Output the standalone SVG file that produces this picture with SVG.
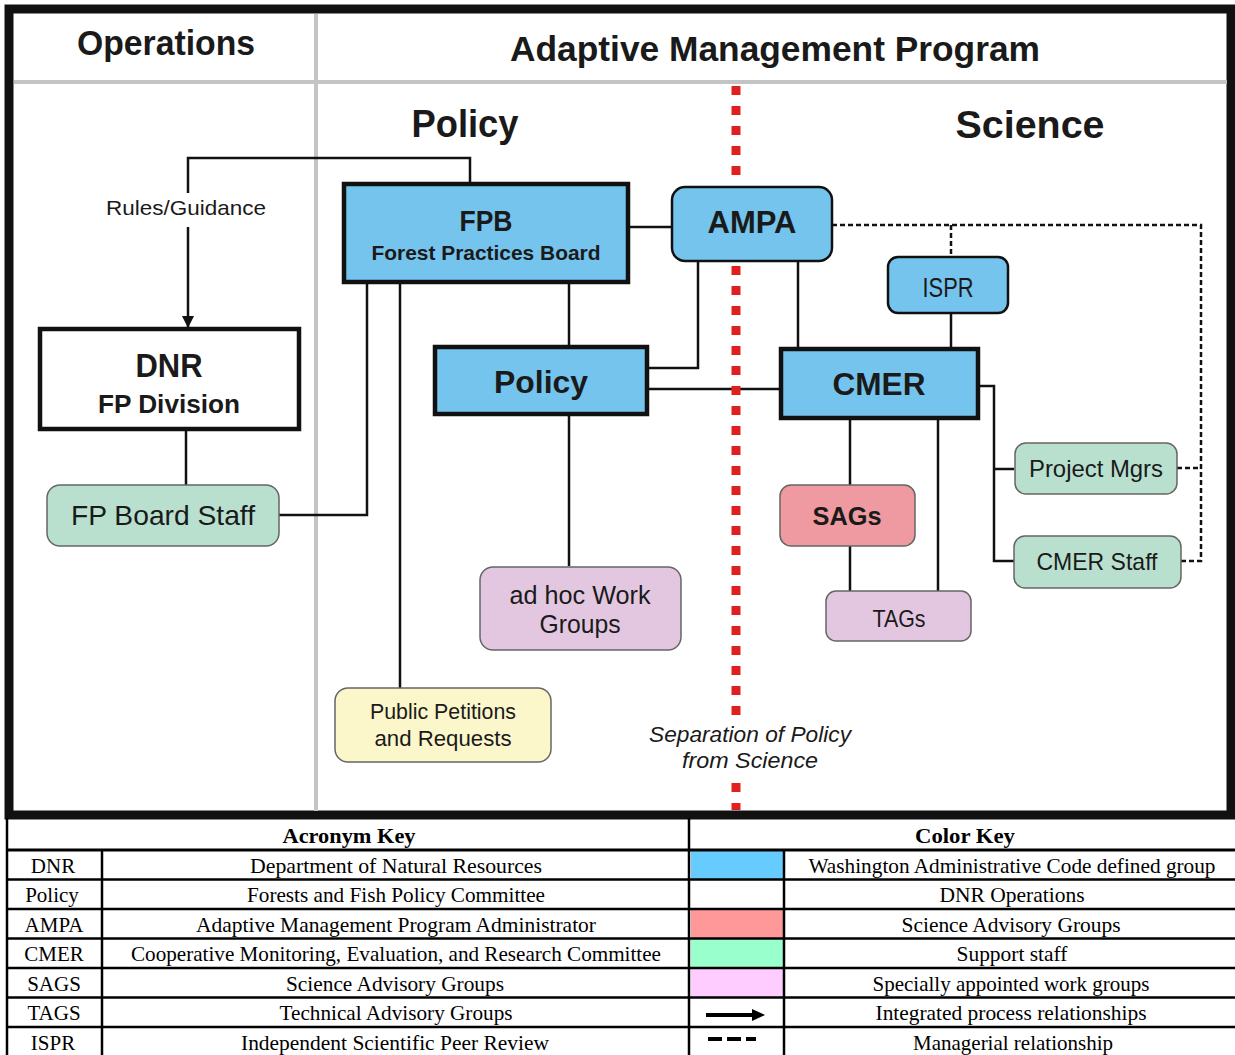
<svg xmlns="http://www.w3.org/2000/svg" width="1235" height="1055" viewBox="0 0 1235 1055">
<defs>
<style>
.t{font-family:"Liberation Sans",Arial,sans-serif;fill:#1a1a1a;text-anchor:middle}
.b{font-weight:bold}
.c{fill:none;stroke:#111;stroke-width:2.5}
.d{fill:none;stroke:#111;stroke-width:2.5;stroke-dasharray:5 3}
.blue{fill:#74c4ee}
.sq{stroke:#111;stroke-width:4.5}
.rd{stroke:#111;stroke-width:2.5}
.pst{stroke:#666;stroke-width:1.5}
.tt{font-family:"Liberation Serif","Times New Roman",serif;font-size:21px;fill:#000;text-anchor:middle}
.tl{stroke:#000;stroke-width:2.5}
.red{fill:none;stroke:#e02020;stroke-width:9;stroke-dasharray:9 11}
</style>
<marker id="arr" markerWidth="12" markerHeight="12" refX="11" refY="6" orient="auto" markerUnits="userSpaceOnUse"><path d="M0,0 L12,6 L0,12 z" fill="#111"/></marker>
</defs>
<rect x="0" y="0" width="1235" height="1055" fill="#fff"/>

<g id="frame">
<rect x="9" y="9" width="1222" height="806" fill="#fff" stroke="#111" stroke-width="9"/>
<line x1="316" y1="14" x2="316" y2="811" stroke="#c4c4c4" stroke-width="4"/>
<line x1="14" y1="82" x2="1227" y2="82" stroke="#c4c4c4" stroke-width="4"/>
<text class="t b" x="166" y="55" font-size="35" textLength="178" lengthAdjust="spacingAndGlyphs">Operations</text>
<text class="t b" x="775" y="61" font-size="35" textLength="530" lengthAdjust="spacingAndGlyphs">Adaptive Management Program</text>
<text class="t b" x="465" y="137" font-size="39" textLength="107" lengthAdjust="spacingAndGlyphs">Policy</text>
<text class="t b" x="1030" y="138" font-size="39" textLength="149" lengthAdjust="spacingAndGlyphs">Science</text>
</g>

<g id="connectors">
<path class="c" d="M470,183 V158 H188 V193"/>
<path class="c" d="M188,227 V327" marker-end="url(#arr)"/>
<text class="t" x="186" y="215" font-size="21" textLength="160" lengthAdjust="spacingAndGlyphs">Rules/Guidance</text>
<path class="c" d="M628,227 H672"/>
<path class="c" d="M698,261 V368 H647"/>
<path class="c" d="M798,261 V348"/>
<path class="c" d="M951,313 V348"/>
<path class="c" d="M647,389 H780"/>
<path class="c" d="M569,282 V346"/>
<path class="c" d="M569,414 V566"/>
<path class="c" d="M400,282 V688"/>
<path class="c" d="M367,282 V515 H279"/>
<path class="c" d="M186,430 V485"/>
<path class="c" d="M850,418 V485 M850,546 V591 M938,418 V591"/>
<path class="c" d="M978,386 H994 V561 H1014 M994,469 H1014"/>
<path class="d" d="M832,225 H1201 V561 H1181 M951,225 V257 M1177,468 H1201"/>
</g>

<g id="separation">
<line class="red" x1="736" y1="86" x2="736" y2="716"/>
<line class="red" x1="736" y1="783" x2="736" y2="810"/>
<text class="t" x="750" y="742" font-size="22" font-style="italic" textLength="202" lengthAdjust="spacingAndGlyphs">Separation of Policy</text>
<text class="t" x="750" y="768" font-size="22" font-style="italic" textLength="136" lengthAdjust="spacingAndGlyphs">from Science</text>
</g>

<g id="fpb">
<rect class="blue sq" x="344" y="184" width="284" height="98"/>
<text class="t b" x="486" y="231" font-size="29" textLength="53" lengthAdjust="spacingAndGlyphs">FPB</text>
<text class="t b" x="486" y="260" font-size="21" textLength="229" lengthAdjust="spacingAndGlyphs">Forest Practices Board</text>
</g>
<g id="ampa">
<rect class="blue rd" x="672" y="187" width="160" height="74" rx="13"/>
<text class="t b" x="752" y="233" font-size="32" textLength="89" lengthAdjust="spacingAndGlyphs">AMPA</text>
</g>
<g id="ispr">
<rect class="blue rd" x="888" y="257" width="120" height="56" rx="10"/>
<text class="t" x="948" y="297" font-size="27" textLength="51" lengthAdjust="spacingAndGlyphs">ISPR</text>
</g>
<g id="dnr">
<rect fill="#fff" class="sq" x="40" y="329" width="259" height="100"/>
<text class="t b" x="169" y="377" font-size="33" textLength="67" lengthAdjust="spacingAndGlyphs">DNR</text>
<text class="t b" x="169" y="413" font-size="25" textLength="142" lengthAdjust="spacingAndGlyphs">FP Division</text>
</g>
<g id="fp-board-staff">
<rect fill="#b9e0cf" class="pst" x="47" y="485" width="232" height="61" rx="13"/>
<text class="t" x="163" y="525" font-size="28" textLength="184" lengthAdjust="spacingAndGlyphs">FP Board Staff</text>
</g>
<g id="policy">
<rect class="blue sq" x="435" y="347" width="212" height="67"/>
<text class="t b" x="541" y="393" font-size="32" textLength="94" lengthAdjust="spacingAndGlyphs">Policy</text>
</g>
<g id="cmer">
<rect class="blue sq" x="781" y="349" width="197" height="69"/>
<text class="t b" x="879" y="395" font-size="31" textLength="93" lengthAdjust="spacingAndGlyphs">CMER</text>
</g>
<g id="sags">
<rect fill="#ee9aa0" class="pst" x="780" y="485" width="135" height="61" rx="11"/>
<text class="t b" x="847" y="525" font-size="26" textLength="69" lengthAdjust="spacingAndGlyphs">SAGs</text>
</g>
<g id="tags">
<rect fill="#e3c7e0" class="pst" x="826" y="591" width="145" height="50" rx="10"/>
<text class="t" x="899" y="627" font-size="24" textLength="53" lengthAdjust="spacingAndGlyphs">TAGs</text>
</g>
<g id="project-mgrs">
<rect fill="#b9e0cf" class="pst" x="1015" y="443" width="162" height="51" rx="11"/>
<text class="t" x="1096" y="477" font-size="24" textLength="134" lengthAdjust="spacingAndGlyphs">Project Mgrs</text>
</g>
<g id="cmer-staff">
<rect fill="#b9e0cf" class="pst" x="1014" y="536" width="167" height="52" rx="11"/>
<text class="t" x="1097" y="570" font-size="24" textLength="121" lengthAdjust="spacingAndGlyphs">CMER Staff</text>
</g>
<g id="adhoc">
<rect fill="#e3c7e0" class="pst" x="480" y="567" width="201" height="83" rx="13"/>
<text class="t" x="580" y="604" font-size="25" textLength="141" lengthAdjust="spacingAndGlyphs">ad hoc Work</text>
<text class="t" x="580" y="633" font-size="25" textLength="81" lengthAdjust="spacingAndGlyphs">Groups</text>
</g>
<g id="public-petitions">
<rect fill="#fbf7cb" class="pst" x="335" y="688" width="216" height="74" rx="13"/>
<text class="t" x="443" y="719" font-size="22" textLength="146" lengthAdjust="spacingAndGlyphs">Public Petitions</text>
<text class="t" x="443" y="746" font-size="22" textLength="137" lengthAdjust="spacingAndGlyphs">and Requests</text>
</g>

<g id="legend">
<rect x="691" y="851" width="92" height="28" fill="#66ccff"/>
<rect x="691" y="910" width="92" height="28" fill="#ff9999"/>
<rect x="691" y="939" width="92" height="28" fill="#99ffcc"/>
<rect x="691" y="969" width="92" height="28" fill="#ffccff"/>
<line class="tl" x1="7" y1="818" x2="7" y2="1055"/>
<line x1="7" y1="850" x2="1235" y2="850" stroke="#000" stroke-width="3"/>
<line class="tl" x1="7" y1="879.5" x2="1235" y2="879.5"/>
<line class="tl" x1="7" y1="909" x2="1235" y2="909"/>
<line class="tl" x1="7" y1="938.5" x2="1235" y2="938.5"/>
<line class="tl" x1="7" y1="968" x2="1235" y2="968"/>
<line class="tl" x1="7" y1="997.5" x2="1235" y2="997.5"/>
<line class="tl" x1="7" y1="1027" x2="1235" y2="1027"/>
<line class="tl" x1="102" y1="850" x2="102" y2="1055"/>
<line class="tl" x1="689" y1="818" x2="689" y2="1055"/>
<line class="tl" x1="784" y1="850" x2="784" y2="1055"/>
<line x1="706" y1="1015" x2="753" y2="1015" stroke="#000" stroke-width="4"/>
<polygon points="752,1009 765,1015 752,1021" fill="#000"/>
<line x1="708" y1="1039" x2="756" y2="1039" stroke="#000" stroke-width="4" stroke-dasharray="14 5"/>
<text class="tt" x="349" y="843" font-weight="bold" textLength="133" lengthAdjust="spacingAndGlyphs">Acronym Key</text>
<text class="tt" x="965" y="843" font-weight="bold" textLength="100" lengthAdjust="spacingAndGlyphs">Color Key</text>
<text class="tt" x="53" y="873">DNR</text>
<text class="tt" x="52" y="902">Policy</text>
<text class="tt" x="54" y="932">AMPA</text>
<text class="tt" x="54" y="961">CMER</text>
<text class="tt" x="54" y="991">SAGS</text>
<text class="tt" x="54" y="1020">TAGS</text>
<text class="tt" x="53" y="1050">ISPR</text>
<text class="tt" x="396" y="873" textLength="292" lengthAdjust="spacingAndGlyphs">Department of Natural Resources</text>
<text class="tt" x="396" y="902" textLength="298" lengthAdjust="spacingAndGlyphs">Forests and Fish Policy Committee</text>
<text class="tt" x="396" y="932" textLength="400" lengthAdjust="spacingAndGlyphs">Adaptive Management Program Administrator</text>
<text class="tt" x="396" y="961" textLength="530" lengthAdjust="spacingAndGlyphs">Cooperative Monitoring, Evaluation, and Research Committee</text>
<text class="tt" x="395" y="991" textLength="218" lengthAdjust="spacingAndGlyphs">Science Advisory Groups</text>
<text class="tt" x="396" y="1020" textLength="233" lengthAdjust="spacingAndGlyphs">Technical Advisory Groups</text>
<text class="tt" x="395" y="1050" textLength="308" lengthAdjust="spacingAndGlyphs">Independent Scientific Peer Review</text>
<text class="tt" x="1012" y="873" textLength="407" lengthAdjust="spacingAndGlyphs">Washington Administrative Code defined group</text>
<text class="tt" x="1012" y="902" textLength="145" lengthAdjust="spacingAndGlyphs">DNR Operations</text>
<text class="tt" x="1011" y="932" textLength="219" lengthAdjust="spacingAndGlyphs">Science Advisory Groups</text>
<text class="tt" x="1012" y="961" textLength="111" lengthAdjust="spacingAndGlyphs">Support staff</text>
<text class="tt" x="1011" y="991" textLength="277" lengthAdjust="spacingAndGlyphs">Specially appointed work groups</text>
<text class="tt" x="1011" y="1020" textLength="271" lengthAdjust="spacingAndGlyphs">Integrated process relationships</text>
<text class="tt" x="1013" y="1050" textLength="200" lengthAdjust="spacingAndGlyphs">Managerial relationship</text>
</g>
</svg>
